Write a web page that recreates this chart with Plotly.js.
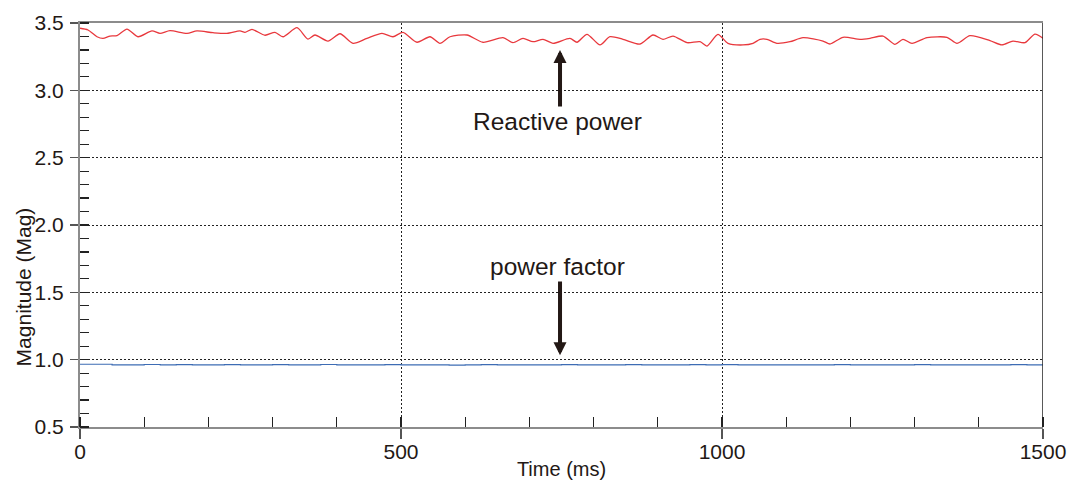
<!DOCTYPE html>
<html>
<head>
<meta charset="utf-8">
<script src="https://cdn.plot.ly/plotly-3.0.1.min.js"></script>
<style>
html,body{margin:0;padding:0;background:#fff;}
#chart{width:1070px;height:488px;}
</style>
</head>
<body>
<div id="chart"></div>
<script>
// Reactive power trace (time in ms, magnitude)
const reactiveTime = [0,12.5,26.5,35.8,46.7,57.6,73.2,90.3,112.1,124.6,140.2,166.7,182.2,207.2,229.0,249.2,257,267.9,288.2,303.7,316.2,338,355.1,366,386.3,405,425.2,447,470.4,487.5,503.1,524.9,545.2,560.7,576.3,602.8,627.7,658.9,674.4,690,705.6,721.2,736.7,763.2,774.1,789.7,810,825.5,845.8,872.3,892.5,908.1,923.7,945.5,965.7,976.6,993.7,1009.3,1032.7,1048.3,1059.2,1070.1,1085.6,1105.9,1126.2,1157.3,1168.2,1188.5,1215,1230.5,1250.8,1269.4,1281.9,1295.9,1319.3,1350.4,1366,1386.3,1417.4,1436.1,1453.2,1471.9,1487.5,1500];
const reactiveValue = [3.461,3.448,3.398,3.386,3.403,3.406,3.455,3.398,3.441,3.423,3.443,3.423,3.441,3.428,3.423,3.441,3.431,3.453,3.409,3.431,3.398,3.465,3.381,3.411,3.366,3.420,3.349,3.386,3.423,3.398,3.431,3.357,3.398,3.349,3.398,3.411,3.357,3.391,3.354,3.386,3.361,3.379,3.349,3.386,3.357,3.416,3.337,3.398,3.379,3.344,3.411,3.379,3.403,3.354,3.361,3.329,3.416,3.349,3.337,3.349,3.379,3.379,3.349,3.361,3.391,3.366,3.344,3.394,3.379,3.386,3.403,3.342,3.379,3.349,3.391,3.394,3.349,3.406,3.369,3.337,3.366,3.354,3.418,3.386];

// Power factor trace
const pfTime = [0,25,50,75,100,125,150,175,200,225,250,275,300,325,350,375,400,425,450,475,500,525,550,575,600,625,650,675,700,725,750,775,800,825,850,875,900,925,950,975,1000,1025,1050,1075,1100,1125,1150,1175,1200,1225,1250,1275,1300,1325,1350,1375,1400,1425,1450,1475,1500];
const pfValue = [0.966,0.966,0.961,0.962,0.964,0.962,0.963,0.961,0.962,0.963,0.962,0.961,0.963,0.962,0.962,0.964,0.962,0.961,0.962,0.963,0.962,0.961,0.962,0.960,0.962,0.963,0.961,0.962,0.962,0.961,0.963,0.962,0.961,0.962,0.963,0.962,0.961,0.962,0.963,0.961,0.963,0.962,0.961,0.962,0.962,0.961,0.962,0.963,0.962,0.961,0.962,0.962,0.963,0.961,0.962,0.962,0.961,0.962,0.963,0.962,0.962];

// Axis ticks
const xTicks = [0,500,1000,1500];
const xTickLabels = ['0','500','1000','1500'];
const yTicks = [0.5,1.0,1.5,2.0,2.5,3.0,3.5];
const yTickLabels = ['0.5','1.0','1.5','2.0','2.5','3.0','3.5'];

const ink = '#231815';
const font = 'Liberation Sans, Arial, Helvetica, sans-serif';

const traces = [
  {x: reactiveTime, y: reactiveValue, type:'scatter', mode:'lines',
   line:{color:'#e8383d', width:1.3, shape:'spline', smoothing:0.7}, hoverinfo:'skip'},
  {x: pfTime, y: pfValue, type:'scatter', mode:'lines',
   line:{color:'#3d6cb4', width:1.2, shape:'hv'}, hoverinfo:'skip'}
];

const layout = {
  width:1070, height:488,
  margin:{l:80, r:27, t:23, b:61},
  paper_bgcolor:'#fff', plot_bgcolor:'#fff',
  showlegend:false,
  font:{family:font, color:ink},
  xaxis:{
    range:[0,1500], tickvals:xTicks, ticktext:xTickLabels,
    ticks:'outside', ticklen:10, tickwidth:1.5, tickcolor:'#555',
    showline:true, linecolor:'#8c8c8c', linewidth:2, mirror:true,
    showgrid:true, gridcolor:'#222', griddash:'2px,2px', gridwidth:1,
    zeroline:false, tickfont:{size:21, color:ink},
    ticklabelstandoff:-5,
    minor:{dtick:100, tick0:0, ticks:'inside', ticklen:10, tickwidth:1.2, tickcolor:'#222', showgrid:false},
    title:{text:'Time (ms)', font:{size:20, color:ink}, standoff:0}
  },
  yaxis:{
    range:[0.5,3.5], tickvals:yTicks, ticktext:yTickLabels,
    ticks:'outside', ticklen:8, tickwidth:1.5, tickcolor:'#555',
    showline:true, linecolor:'#8c8c8c', linewidth:2,
    showgrid:true, gridcolor:'#222', griddash:'2px,2px', gridwidth:1,
    zeroline:false, tickfont:{size:21, color:ink},
    ticklabelstandoff:2,
    minor:{dtick:0.1, tick0:0.5, ticks:'inside', ticklen:9, tickwidth:1.2, tickcolor:'#222', showgrid:false},
    title:{text:''}
  },
  shapes:[
    {type:'line', xref:'x', yref:'y', x0:1500, x1:1500, y0:0.5, y1:3.5, line:{color:'#222', width:1.5}, layer:'above'}
  ],
  annotations:[
    {xref:'paper', yref:'paper', x:-0.059, y:0.346, xanchor:'center', yanchor:'middle',
     text:'Magnitude (Mag)', textangle:-90, showarrow:false, font:{size:21, color:ink}},
    {xref:'x', yref:'y', x:747.7, y:3.30, axref:'x', ayref:'y', ax:747.7, ay:2.868,
     text:'', showarrow:true, arrowhead:2, arrowsize:0.65, arrowwidth:4, arrowcolor:ink, standoff:0},
    {xref:'x', yref:'y', x:743, y:2.772, text:'Reactive power', showarrow:false,
     font:{size:24.5, color:ink}},
    {xref:'x', yref:'y', x:747.7, y:1.033, axref:'x', ayref:'y', ax:747.7, ay:1.591,
     text:'', showarrow:true, arrowhead:2, arrowsize:0.65, arrowwidth:4, arrowcolor:ink, standoff:0},
    {xref:'x', yref:'y', x:743, y:1.695, text:'power factor', showarrow:false,
     font:{size:24.5, color:ink}}
  ]
};

Plotly.newPlot('chart', traces, layout, {staticPlot:true, displayModeBar:false});
</script>
</body>
</html>
